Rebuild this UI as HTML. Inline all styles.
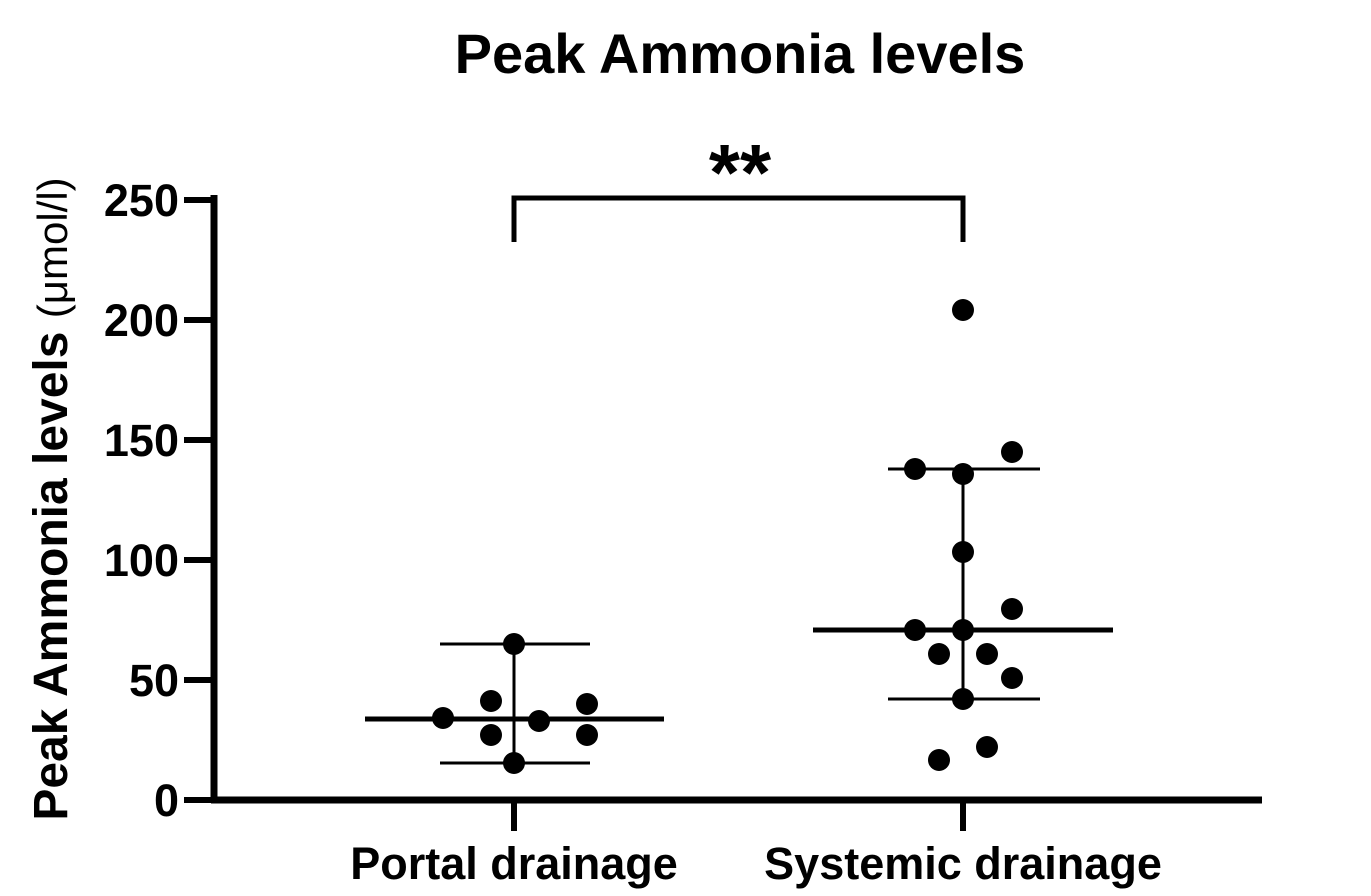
<!DOCTYPE html>
<html><head><meta charset="utf-8"><style>
html,body{margin:0;padding:0;background:#fff;}
svg{display:block;}
text{font-family:"Liberation Sans",Arial,sans-serif;font-weight:bold;fill:#000;}
</style></head><body>
<svg width="1371" height="896" viewBox="0 0 1371 896">
<text x="740" y="73" font-size="56" text-anchor="middle">Peak Ammonia levels</text>
<text x="740" y="200" font-size="80" text-anchor="middle">**</text>
<path d="M514,242 V198 H963 V242" fill="none" stroke="#000" stroke-width="5"/>
<line x1="214" y1="195" x2="214" y2="803" stroke="#000" stroke-width="7"/>
<line x1="211" y1="800" x2="1262" y2="800" stroke="#000" stroke-width="7"/>
<g stroke="#000" stroke-width="6">
<line x1="184" y1="800" x2="214" y2="800"/>
<line x1="184" y1="680" x2="214" y2="680"/>
<line x1="184" y1="560" x2="214" y2="560"/>
<line x1="184" y1="440" x2="214" y2="440"/>
<line x1="184" y1="320" x2="214" y2="320"/>
<line x1="184" y1="200" x2="214" y2="200"/>
<line x1="514" y1="800" x2="514" y2="831"/>
<line x1="963" y1="800" x2="963" y2="831"/>
</g>
<g font-size="45" text-anchor="end">
<text x="179" y="816">0</text>
<text x="179" y="696">50</text>
<text x="179" y="576">100</text>
<text x="179" y="456">150</text>
<text x="179" y="336">200</text>
<text x="179" y="216">250</text>
</g>
<g font-size="45" text-anchor="middle">
<text x="514" y="879">Portal drainage</text>
<text x="963" y="879">Systemic drainage</text>
</g>
<text transform="translate(67,499) rotate(-90)" font-size="48" text-anchor="middle">Peak Ammonia levels <tspan font-weight="normal" font-size="42">(μmol/l)</tspan></text>
<g stroke="#000">
<line x1="365" y1="719" x2="664" y2="719" stroke-width="5"/>
<line x1="440" y1="644" x2="590" y2="644" stroke-width="3"/>
<line x1="440" y1="763" x2="590" y2="763" stroke-width="3"/>
<line x1="514" y1="644" x2="514" y2="763" stroke-width="3"/>
<line x1="813" y1="630" x2="1113" y2="630" stroke-width="5"/>
<line x1="888" y1="469" x2="1040" y2="469" stroke-width="3"/>
<line x1="888" y1="699" x2="1040" y2="699" stroke-width="3"/>
<line x1="963" y1="469" x2="963" y2="699" stroke-width="3"/>
</g>
<g fill="#000">
<circle cx="514" cy="644" r="11"/><circle cx="491" cy="701" r="11"/><circle cx="587" cy="704" r="11"/>
<circle cx="443" cy="718" r="11"/><circle cx="539" cy="721" r="11"/><circle cx="491" cy="735" r="11"/>
<circle cx="587" cy="735" r="11"/><circle cx="514" cy="763" r="11"/>
<circle cx="963" cy="310" r="11"/><circle cx="1012" cy="452" r="11"/><circle cx="915" cy="469" r="11"/>
<circle cx="963" cy="474" r="11"/><circle cx="963" cy="552" r="11"/><circle cx="1012" cy="609" r="11"/>
<circle cx="915" cy="630" r="11"/><circle cx="963" cy="630" r="11"/><circle cx="939" cy="654" r="11"/>
<circle cx="987" cy="654" r="11"/><circle cx="1012" cy="678" r="11"/><circle cx="963" cy="699" r="11"/>
<circle cx="987" cy="747" r="11"/><circle cx="939" cy="760" r="11"/>
</g>
</svg>
</body></html>
